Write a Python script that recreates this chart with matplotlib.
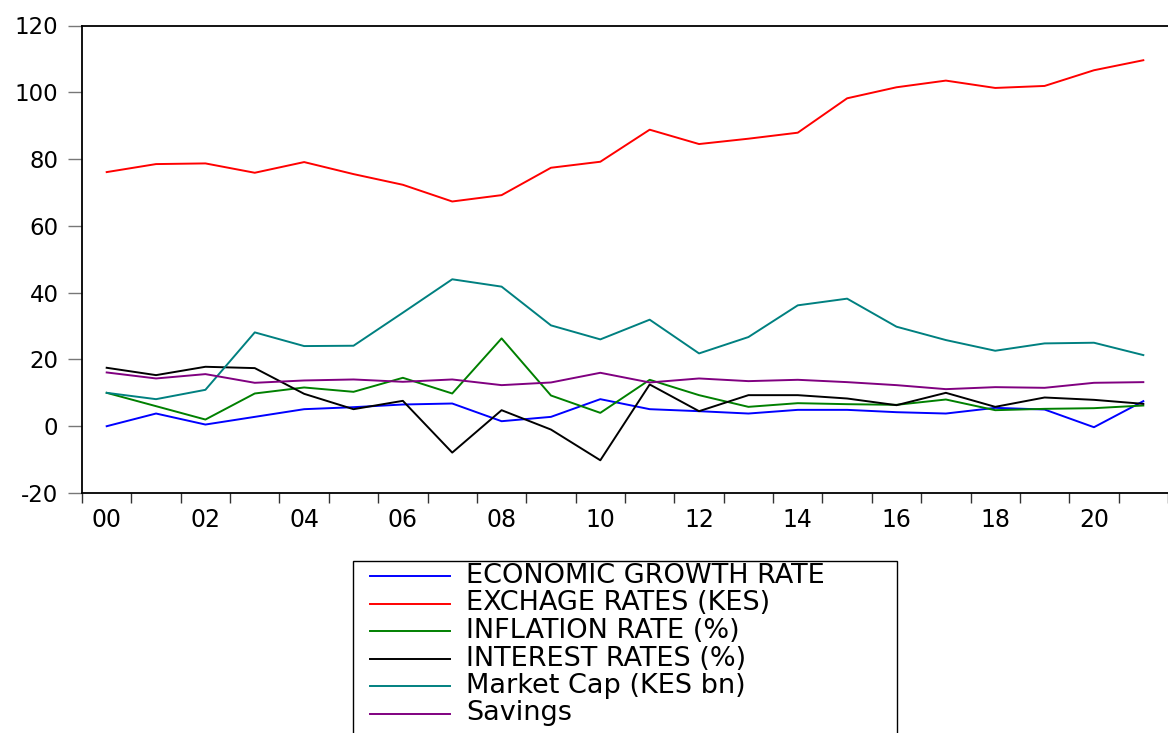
import numpy as np
import matplotlib.pyplot as plt
from matplotlib.lines import Line2D
from matplotlib.patches import Rectangle

plt.rcParams['font.family'] = ['DejaVu Sans']
plt.rcParams['axes.unicode_minus'] = False

years = list(range(2000, 2022))

growth = [0.0, 3.8, 0.5, 2.8, 5.1, 5.7, 6.5, 6.8, 1.5, 2.8, 8.1, 5.1, 4.5, 3.8,
          4.9, 4.9, 4.2, 3.8, 5.5, 5.0, -0.3, 7.5]
exchange = [76.1, 78.5, 78.7, 75.9, 79.1, 75.5, 72.3, 67.3, 69.2, 77.4, 79.2, 88.8,
            84.5, 86.1, 87.9, 98.2, 101.5, 103.5, 101.3, 101.9, 106.6, 109.6]
inflation = [10.0, 6.0, 2.0, 9.8, 11.6, 10.3, 14.5, 9.8, 26.3, 9.2, 4.0, 13.9,
             9.3, 5.8, 6.9, 6.6, 6.4, 8.0, 4.8, 5.2, 5.4, 6.2]
interest = [17.5, 15.3, 17.8, 17.4, 9.7, 5.1, 7.6, -7.9, 4.8, -1.0, -10.2, 12.5,
            4.5, 9.3, 9.3, 8.3, 6.3, 10.0, 5.8, 8.6, 7.9, 6.7]
market_cap = [10.0, 8.1, 10.9, 28.1, 24.0, 24.1, 34.0, 44.0, 41.8, 30.2, 26.0, 31.9,
              21.8, 26.7, 36.2, 38.2, 29.8, 25.8, 22.6, 24.8, 25.0, 21.3]
savings = [16.1, 14.3, 15.6, 13.0, 13.7, 14.0, 13.3, 14.0, 12.3, 13.1, 16.0, 13.1,
           14.3, 13.5, 13.9, 13.2, 12.3, 11.1, 11.7, 11.5, 13.0, 13.2]

series = [
    ("ECONOMIC GROWTH RATE", growth, "#0000ff"),
    ("EXCHAGE RATES (KES)", exchange, "#ff0000"),
    ("INFLATION RATE (%)", inflation, "#008000"),
    ("INTEREST RATES (%)", interest, "#000000"),
    ("Market Cap (KES bn)", market_cap, "#008080"),
    ("Savings", savings, "#800080"),
]

W, H = 1168, 733
fig = plt.figure(figsize=(W / 100, H / 100), dpi=100)
ax = fig.add_axes([82 / W, 1 - 493 / H, 1 - 82 / W, (493 - 25.5) / H])

# each year occupies one unit; points sit in the middle of it (EViews style)
x = np.arange(len(years)) + 0.5
for label, vals, col in series:
    ax.plot(x, vals, color=col, lw=1.4)

ax.set_xlim(0, len(years))
ax.set_ylim(-20, 120)
ax.set_yticks(range(-20, 121, 20))
ax.set_xticks(range(len(years) + 1))
ax.set_xticklabels([])
ax.set_xticks(x[::2], minor=True)
ax.set_xticklabels([f"{y % 100:02d}" for y in years[::2]], minor=True)
ax.tick_params(axis='x', which='major', direction='out', length=7.2, width=1, color='#333333')
ax.tick_params(axis='x', which='minor', length=0, pad=11, labelsize=17)
ax.tick_params(axis='y', direction='out', length=10, width=1, color='#777777', pad=7, labelsize=16.5)

for side in ['left', 'bottom', 'top']:
    ax.spines[side].set_linewidth(1.3)
ax.spines['right'].set_visible(False)

# legend box below the plot, drawn in figure pixels
fig.add_artist(Rectangle((353 / W, -0.05), (897 - 353) / W, 0.05 + 1 - 561 / H,
                         transform=fig.transFigure, fill=False, ec='black', lw=1.0))
for k, (label, vals, col) in enumerate(series):
    yy = 1 - (576 + 27.5 * k) / H
    fig.add_artist(Line2D([370 / W, 450 / W], [yy, yy], transform=fig.transFigure,
                          color=col, lw=1.4))
    fig.text(466 / W, yy, label, fontsize=19.5, va='center', ha='left')

fig.savefig("out.png", dpi=100)
